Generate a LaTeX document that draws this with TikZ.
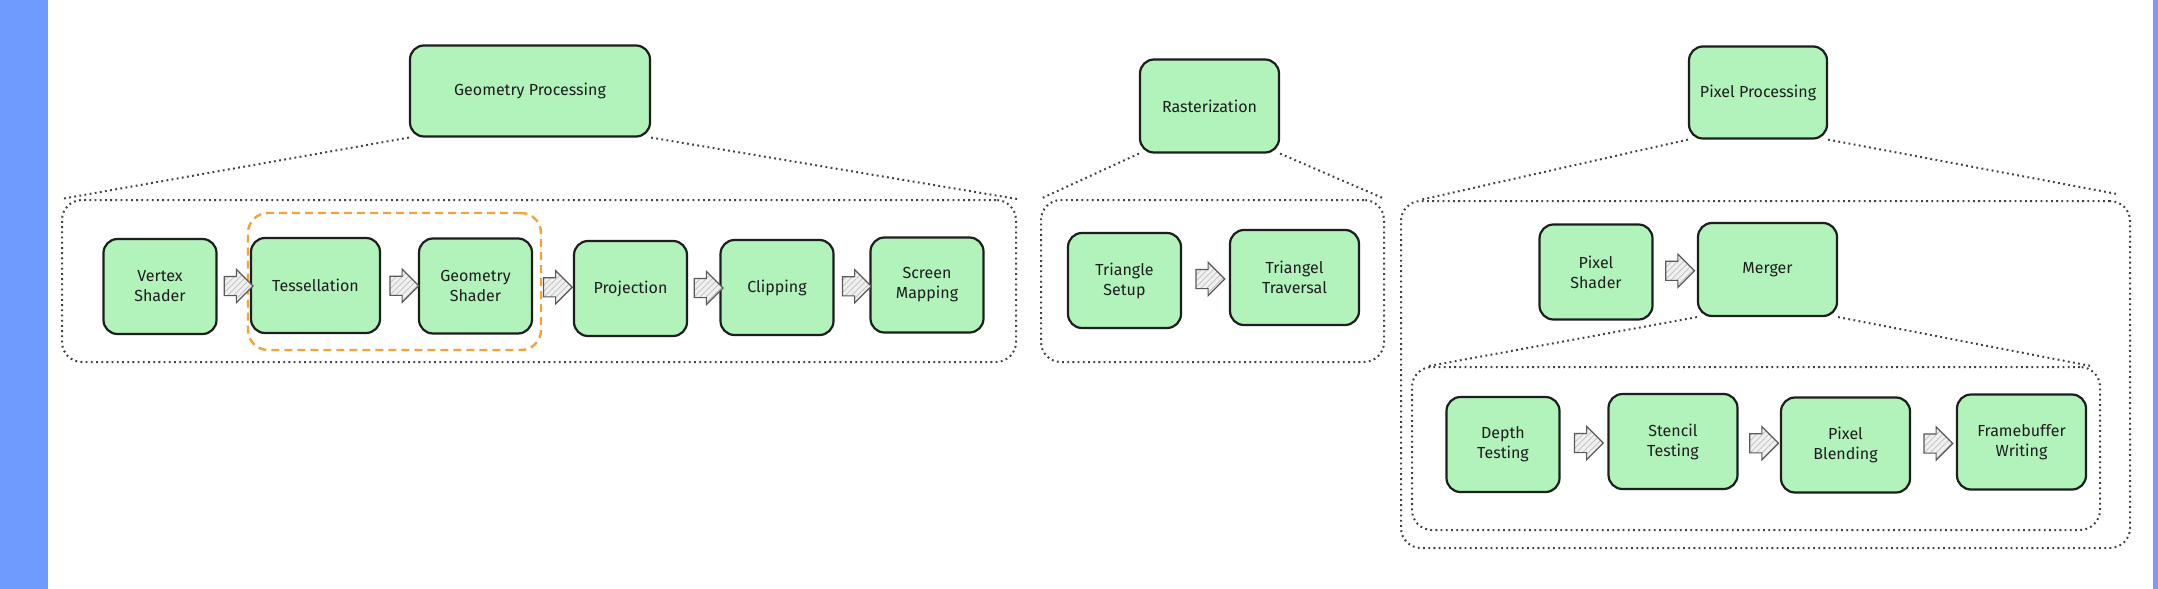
\documentclass[tikz,border=0pt]{standalone}
\usepackage{fontspec}
\setmainfont{Fira Sans}
\usetikzlibrary{shapes.arrows, patterns, calc}

\definecolor{stagegreen}{HTML}{B2F2BB}
\definecolor{sidebar}{HTML}{6F9BFF}
\definecolor{sideline}{HTML}{7B9CF0}
\definecolor{focusorange}{HTML}{F4A23C}
\definecolor{inkgray}{HTML}{1E1E1E}

\begin{document}
\begin{tikzpicture}[x=0.5pt, y=-0.5pt,
    stage/.style={draw=inkgray, line width=1.1pt, fill=stagegreen, rounded corners=7pt,
        minimum width=56.5pt, minimum height=47.5pt, align=center, inner sep=2pt,
        text=inkgray, font=\fontsize{8}{10}\selectfont},
    widestage/.style={stage, minimum width=64.5pt},
    group/.style={draw=black!75, line width=1pt, dash pattern=on 0.9pt off 1.7pt, rounded corners=10pt},
    link/.style={draw=black!75, line width=1pt, dash pattern=on 0.9pt off 1.7pt},
    flow/.style={single arrow, draw=black!65, line width=0.6pt, preaction={fill=gray!12},
        pattern=north east lines, pattern color=gray!45, inner sep=4.5pt,
        minimum height=13.5pt, single arrow head extend=3.5pt}]
    \fill[white] (0,0) rectangle (2158,589);
    \fill[sidebar] (0,0) rectangle (48,589);
    \fill[sideline] (2153,0) rectangle (2158,589);

    \node[group, minimum width=477pt, minimum height=81pt] (geogrp) at (539,281) {};
    \node[group, minimum width=171.5pt, minimum height=81pt] (rastgrp) at (1212.5,281) {};
    \node[group, minimum width=364.5pt, minimum height=173.5pt] (pixgrp) at (1765.5,374.5) {};
    \node[group, minimum width=344pt, minimum height=81.5pt] (mergegrp) at (1756,448.5) {};
    \node[draw=focusorange, line width=1.2pt, dash pattern=on 4pt off 2.5pt, rounded corners=10pt,
        minimum width=146.5pt, minimum height=68.5pt] (focus) at (394.5,281.5) {};

    \node[stage, minimum width=120pt, minimum height=45.5pt] (geoproc) at (530,91) {Geometry Processing};
    \node[stage, minimum width=69.5pt, minimum height=46.5pt] (rastproc) at (1209.5,106) {Rasterization};
    \node[stage, minimum width=69pt, minimum height=46pt] (pixproc) at (1758,92.5) {Pixel Processing};

    \node[stage] (vertex) at (160,286.5) {Vertex\\Shader};
    \node[widestage] (tess) at (315.5,285.5) {Tessellation};
    \node[stage] (geoshader) at (475.5,286) {Geometry\\Shader};
    \node[stage] (proj) at (630.5,288.5) {Projection};
    \node[stage] (clip) at (777,287.5) {Clipping};
    \node[stage] (screen) at (927,285) {Screen\\Mapping};

    \node[stage] (trisetup) at (1124.5,280.5) {Triangle\\Setup};
    \node[widestage] (tritrav) at (1294.5,277.5) {Triangel\\Traversal};

    \node[stage] (pixshader) at (1596,272) {Pixel\\Shader};
    \node[stage, minimum width=69.5pt, minimum height=46.5pt] (merger) at (1767.5,269.5) {Merger};

    \node[stage] (depth) at (1503,444.5) {Depth\\Testing};
    \node[widestage] (stencil) at (1673,441.5) {Stencil\\Testing};
    \node[widestage] (blend) at (1845.5,445) {Pixel\\Blending};
    \node[widestage] (fbwrite) at (2021.5,442) {Framebuffer\\Writing};

    \draw[link] (geoproc.south west) -- (geogrp.north west);
    \draw[link] (geoproc.south east) -- (geogrp.north east);
    \draw[link] (rastproc.south west) -- (rastgrp.north west);
    \draw[link] (rastproc.south east) -- (rastgrp.north east);
    \draw[link] (pixproc.south west) -- ([xshift=10pt]pixgrp.north west);
    \draw[link] (pixproc.south east) -- ([xshift=-7pt,yshift=3pt]pixgrp.north east);
    \draw[link] (merger.south west) -- ([xshift=9pt]mergegrp.north west);
    \draw[link] (merger.south east) -- ([xshift=-5pt]mergegrp.north east);

    \foreach \a/\b in {vertex/tess, tess/geoshader, geoshader/proj, proj/clip, clip/screen,
                       trisetup/tritrav, pixshader/merger,
                       depth/stencil, stencil/blend, blend/fbwrite}
        \node[flow] at ($(\a.east)!0.5!(\b.west)$) {};
\end{tikzpicture}
\end{document}
